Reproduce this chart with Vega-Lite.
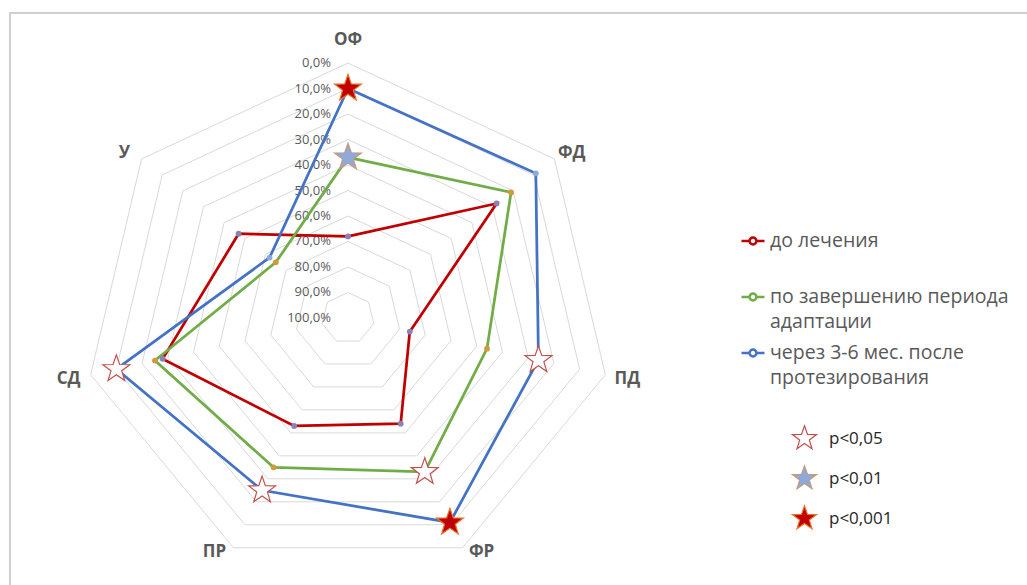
{
  "$schema": "https://vega.github.io/schema/vega-lite/v6.json",
  "width": 1017,
  "height": 572,
  "autosize": {"type": "none"},
  "padding": {"left": 10, "top": 13, "right": 0, "bottom": 0},
  "background": "white",
  "config": {
    "view": {"stroke": "#D0D0D0", "strokeWidth": 2, "strokeDash": [1017, 1589, 572]},
    "font": "Open Sans",
    "style": {"guide-label": {"lineHeight": 25}},
    "legend": {"padding": 0}
  },
  "datasets": {
    "axes": [
      {"ax": "ОФ", "i": 0, "lv": [0, 10, 20, 30, 40, 50, 60, 70, 80, 90, 100]},
      {"ax": "ФД", "i": 1, "lv": [0, 10, 20, 30, 40, 50, 60, 70, 80, 90, 100]},
      {"ax": "ПД", "i": 2, "lv": [0, 10, 20, 30, 40, 50, 60, 70, 80, 90, 100]},
      {"ax": "ФР", "i": 3, "lv": [0, 10, 20, 30, 40, 50, 60, 70, 80, 90, 100]},
      {"ax": "ПР", "i": 4, "lv": [0, 10, 20, 30, 40, 50, 60, 70, 80, 90, 100]},
      {"ax": "СД", "i": 5, "lv": [0, 10, 20, 30, 40, 50, 60, 70, 80, 90, 100]},
      {"ax": "У", "i": 6, "lv": [0, 10, 20, 30, 40, 50, 60, 70, 80, 90, 100]}
    ],
    "series": [
      {"s": "до лечения", "ax": "ОФ", "i": 0, "v": 68},
      {"s": "до лечения", "ax": "ФД", "i": 1, "v": 28},
      {"s": "до лечения", "ax": "ПД", "i": 2, "v": 76},
      {"s": "до лечения", "ax": "ФР", "i": 3, "v": 54},
      {"s": "до лечения", "ax": "ПР", "i": 4, "v": 53},
      {"s": "до лечения", "ax": "СД", "i": 5, "v": 28},
      {"s": "до лечения", "ax": "У", "i": 6, "v": 47},
      {"s": "по завершению  периода адаптации", "ax": "ОФ", "i": 0, "v": 37},
      {"s": "по завершению  периода адаптации", "ax": "ФД", "i": 1, "v": 21},
      {"s": "по завершению  периода адаптации", "ax": "ПД", "i": 2, "v": 46},
      {"s": "по завершению  периода адаптации", "ax": "ФР", "i": 3, "v": 33},
      {"s": "по завершению  периода адаптации", "ax": "ПР", "i": 4, "v": 35},
      {"s": "по завершению  периода адаптации", "ax": "СД", "i": 5, "v": 25},
      {"s": "по завершению  периода адаптации", "ax": "У", "i": 6, "v": 65},
      {"s": "через 3-6 мес. после протезирования", "ax": "ОФ", "i": 0, "v": 10},
      {"s": "через 3-6 мес. после протезирования", "ax": "ФД", "i": 1, "v": 9},
      {"s": "через 3-6 мес. после протезирования", "ax": "ПД", "i": 2, "v": 26},
      {"s": "через 3-6 мес. после протезирования", "ax": "ФР", "i": 3, "v": 11},
      {"s": "через 3-6 мес. после протезирования", "ax": "ПР", "i": 4, "v": 25},
      {"s": "через 3-6 мес. после протезирования", "ax": "СД", "i": 5, "v": 10},
      {"s": "через 3-6 мес. после протезирования", "ax": "У", "i": 6, "v": 62}
    ],
    "stars": [
      {"ax": "ОФ", "i": 0, "v": 10, "p": "p<0,001"},
      {"ax": "ОФ", "i": 0, "v": 37, "p": "p<0,01"},
      {"ax": "ПД", "i": 2, "v": 26, "p": "p<0,05"},
      {"ax": "ФР", "i": 3, "v": 33, "p": "p<0,05"},
      {"ax": "ФР", "i": 3, "v": 11, "p": "p<0,001"},
      {"ax": "ПР", "i": 4, "v": 25, "p": "p<0,05"},
      {"ax": "СД", "i": 5, "v": 10, "p": "p<0,05"}
    ]
  },
  "layer": [
    {
      "data": {"name": "axes"},
      "transform": [
        {"flatten": ["lv"]},
        {"calculate": "datum.i * 2 * PI / 7", "as": "th"},
        {"calculate": "(100 - datum.lv) * sin(datum.th)", "as": "px"},
        {"calculate": "(100 - datum.lv) * cos(datum.th)", "as": "py"}
      ],
      "mark": {"type": "line", "interpolate": "linear-closed", "color": "#D9D9D9", "strokeWidth": 1},
      "encoding": {
        "x": {"field": "px", "type": "quantitative", "scale": {"domain": [-128.03, 257.2], "nice": false, "zero": false}, "axis": null},
        "y": {"field": "py", "type": "quantitative", "scale": {"domain": [-104.71, 119.61], "nice": false, "zero": false}, "axis": null},
        "detail": {"field": "lv", "type": "nominal"},
        "order": {"field": "i", "type": "quantitative"}
      }
    },
    {
      "data": {"name": "axes"},
      "transform": [
        {"filter": "datum.i == 0"},
        {"flatten": ["lv"]},
        {"calculate": "0", "as": "px"},
        {"calculate": "100 - datum.lv", "as": "py"},
        {"calculate": "replace(format(datum.lv / 100, '.1%'), '.', ',')", "as": "t"}
      ],
      "mark": {"type": "text", "align": "right", "baseline": "middle", "dx": -17, "fontSize": 13, "color": "#595959"},
      "encoding": {
        "x": {"field": "px", "type": "quantitative"},
        "y": {"field": "py", "type": "quantitative"},
        "text": {"field": "t"}
      }
    },
    {
      "data": {"name": "axes"},
      "transform": [
        {"calculate": "datum.i * 2 * PI / 7", "as": "th"},
        {"calculate": "(109.5 + 8 * max(0, -cos(datum.th)) - 3 * pow(sin(datum.th), 4)) * sin(datum.th)", "as": "px"},
        {"calculate": "(109 - 8 * max(0, -cos(datum.th)) - 21 * max(0, cos(datum.th)) * (1 - cos(datum.th))) * cos(datum.th)", "as": "py"}
      ],
      "mark": {"type": "text", "align": "center", "baseline": "middle", "fontSize": 17, "fontWeight": "bold", "color": "#595959"},
      "encoding": {
        "x": {"field": "px", "type": "quantitative"},
        "y": {"field": "py", "type": "quantitative"},
        "text": {"field": "ax"}
      }
    },
    {
      "data": {"name": "series"},
      "transform": [
        {"calculate": "datum.i * 2 * PI / 7", "as": "th"},
        {"calculate": "(100 - datum.v) * sin(datum.th)", "as": "px"},
        {"calculate": "(100 - datum.v) * cos(datum.th)", "as": "py"}
      ],
      "mark": {"type": "line", "interpolate": "linear-closed", "strokeWidth": 2.75},
      "encoding": {
        "x": {"field": "px", "type": "quantitative"},
        "y": {"field": "py", "type": "quantitative"},
        "order": {"field": "i", "type": "quantitative"},
        "color": {
          "field": "s",
          "type": "nominal",
          "scale": {
            "domain": ["до лечения", "по завершению  периода адаптации", "через 3-6 мес. после протезирования"],
            "range": ["#C00000", "#70AD47", "#4472C4"]
          },
          "legend": {
            "title": null,
            "orient": "none",
            "legendX": 730,
            "legendY": 215,
            "symbolType": "M-1,0L-0.3,0M0.3,0L1,0M-0.3,0A0.3,0.3 0 1,1 0.3,0A0.3,0.3 0 1,1 -0.3,0",
            "symbolSize": 529,
            "symbolStrokeWidth": 2.5,
            "labelFontSize": 19.5,
            "labelColor": "#595959",
            "labelOffset": 4,
            "labelLimit": 400,
            "rowPadding": 8,
            "labelExpr": "datum.value == 'по завершению  периода адаптации' ? ['по завершению  периода', 'адаптации'] : datum.value == 'через 3-6 мес. после протезирования' ? ['через 3-6 мес. после', 'протезирования'] : [datum.label, '']"
          }
        }
      }
    },
    {
      "data": {"name": "series"},
      "transform": [
        {"calculate": "datum.i * 2 * PI / 7", "as": "th"},
        {"calculate": "(100 - datum.v) * sin(datum.th)", "as": "px"},
        {"calculate": "(100 - datum.v) * cos(datum.th)", "as": "py"}
      ],
      "mark": {"type": "point", "filled": true, "size": 34, "opacity": 1},
      "encoding": {
        "x": {"field": "px", "type": "quantitative"},
        "y": {"field": "py", "type": "quantitative"},
        "color": {
          "field": "s",
          "type": "nominal",
          "scale": {
            "domain": ["до лечения", "по завершению  периода адаптации", "через 3-6 мес. после протезирования"],
            "range": ["#8A82B5", "#D19A3B", "#8EA9DB"]
          },
          "legend": null
        }
      }
    },
    {
      "data": {"name": "stars"},
      "transform": [
        {"calculate": "datum.i * 2 * PI / 7", "as": "th"},
        {"calculate": "(100 - datum.v) * sin(datum.th)", "as": "px"},
        {"calculate": "(100 - datum.v) * cos(datum.th)", "as": "py"}
      ],
      "mark": {
        "type": "point",
        "filled": true,
        "size": 800,
        "opacity": 1,
        "strokeWidth": 1.2,
        "shape": "M0,-1L0.235,-0.324L0.951,-0.309L0.38,0.124L0.588,0.809L0,0.4L-0.588,0.809L-0.38,0.124L-0.951,-0.309L-0.235,-0.324Z"
      },
      "encoding": {
        "x": {"field": "px", "type": "quantitative"},
        "y": {"field": "py", "type": "quantitative"},
        "fill": {
          "field": "p",
          "type": "nominal",
          "scale": {"domain": ["p<0,05", "p<0,01", "p<0,001"], "range": ["#FFFFFF", "#8EA9DB", "#C00000"]},
          "legend": {
            "title": null,
            "orient": "none",
            "legendX": 781,
            "legendY": 412,
            "symbolType": "M0,-1L0.235,-0.324L0.951,-0.309L0.38,0.124L0.588,0.809L0,0.4L-0.588,0.809L-0.38,0.124L-0.951,-0.309L-0.235,-0.324Z",
            "symbolSize": 650,
            "symbolStrokeWidth": 1.2,
            "labelFontSize": 17,
            "labelColor": "#262626",
            "labelOffset": 11,
            "rowPadding": 11
          }
        },
        "stroke": {
          "field": "p",
          "type": "nominal",
          "scale": {"domain": ["p<0,05", "p<0,01", "p<0,001"], "range": ["#C0504D", "#C49A7A", "#E8742A"]},
          "legend": {
            "title": null,
            "orient": "none",
            "legendX": 781,
            "legendY": 412,
            "symbolType": "M0,-1L0.235,-0.324L0.951,-0.309L0.38,0.124L0.588,0.809L0,0.4L-0.588,0.809L-0.38,0.124L-0.951,-0.309L-0.235,-0.324Z",
            "symbolSize": 650,
            "symbolStrokeWidth": 1.2,
            "labelFontSize": 17,
            "labelColor": "#262626",
            "labelOffset": 11,
            "rowPadding": 11
          }
        }
      }
    }
  ],
  "resolve": {"scale": {"color": "independent"}}
}
